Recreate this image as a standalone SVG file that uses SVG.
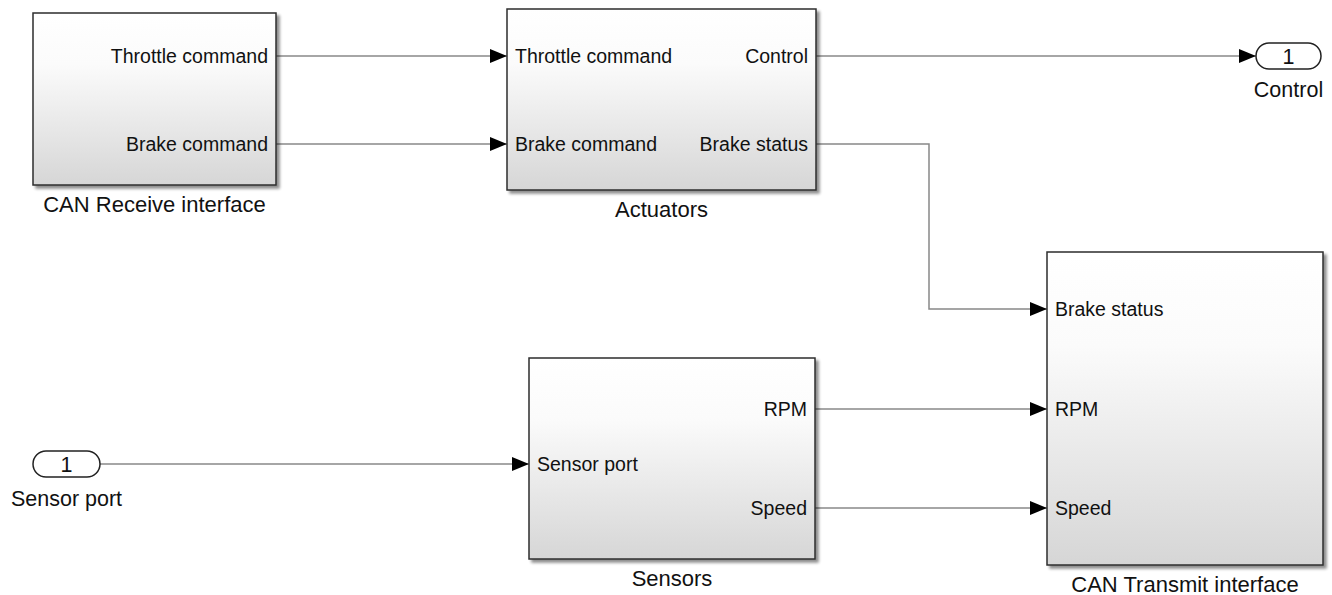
<svg xmlns="http://www.w3.org/2000/svg" width="1332" height="595" viewBox="0 0 1332 595">
<style>
.blk{fill:url(#g);stroke:#2e2e2e;stroke-width:1.5;filter:url(#sh)}
.port{fill:#fff;stroke:#222;stroke-width:1.5}
.t{font-family:"Liberation Sans",Arial,sans-serif;font-size:19.5px;fill:#111}
.n{font-family:"Liberation Sans",Arial,sans-serif;font-size:22px;fill:#111;text-anchor:middle}
.p{font-family:"Liberation Sans",Arial,sans-serif;font-size:21.5px;fill:#111;text-anchor:middle}
.r{text-anchor:end}
.w{fill:none;stroke:#888;stroke-width:1.5}
</style>
<defs>
<linearGradient id="g" x1="0" y1="0" x2="0" y2="1">
<stop offset="0" stop-color="#ffffff"/>
<stop offset="0.3" stop-color="#fbfbfb"/>
<stop offset="1" stop-color="#d6d6d6"/>
</linearGradient>
<filter id="sh" x="-5%" y="-5%" width="115%" height="115%">
<feGaussianBlur in="SourceAlpha" stdDeviation="1.5"/>
<feOffset dx="3" dy="3" result="o"/>
<feComponentTransfer><feFuncA type="linear" slope="0.45"/></feComponentTransfer>
<feMerge><feMergeNode/><feMergeNode in="SourceGraphic"/></feMerge>
</filter>
<marker id="arr" markerWidth="17" markerHeight="14" refX="17" refY="7" orient="auto" markerUnits="userSpaceOnUse">
<path d="M0,0 L17,7 L0,14 z" fill="#000"/>
</marker>
</defs>
<rect width="1332" height="595" fill="#fff"/>
<g id="connectors">
<path class="w" d="M276,56 H507" marker-end="url(#arr)"/>
<path class="w" d="M276,144 H507" marker-end="url(#arr)"/>
<path class="w" d="M816,56 H1256" marker-end="url(#arr)"/>
<path class="w" d="M816,144 H929 V309 H1047" marker-end="url(#arr)"/>
<path class="w" d="M815,409 H1047" marker-end="url(#arr)"/>
<path class="w" d="M815,508 H1047" marker-end="url(#arr)"/>
<path class="w" d="M100,464 H529" marker-end="url(#arr)"/>
</g>
<g id="can_receive">
<rect class="blk" x="33" y="13" width="243" height="172"/>
<text class="t r" x="268" y="63">Throttle command</text>
<text class="t r" x="268" y="151">Brake command</text>
<text class="n" x="154.5" y="212">CAN Receive interface</text>
</g>
<g id="actuators">
<rect class="blk" x="507" y="9" width="309" height="181"/>
<text class="t" x="515" y="63">Throttle command</text>
<text class="t" x="515" y="151">Brake command</text>
<text class="t r" x="808" y="63">Control</text>
<text class="t r" x="808" y="151">Brake status</text>
<text class="n" x="661.5" y="217">Actuators</text>
</g>
<g id="control_out">
<rect class="port" x="1256" y="43" width="65" height="26" rx="13" ry="13"/>
<text class="p" x="1288.5" y="64">1</text>
<text class="p" x="1288.5" y="97">Control</text>
</g>
<g id="sensor_in">
<rect class="port" x="33" y="451" width="67" height="26" rx="13" ry="13"/>
<text class="p" x="66.5" y="472">1</text>
<text class="p" x="66.5" y="506">Sensor port</text>
</g>
<g id="sensors">
<rect class="blk" x="529" y="358" width="286" height="201"/>
<text class="t" x="537" y="471">Sensor port</text>
<text class="t r" x="807" y="416">RPM</text>
<text class="t r" x="807" y="515">Speed</text>
<text class="n" x="672" y="586">Sensors</text>
</g>
<g id="can_transmit">
<rect class="blk" x="1047" y="252" width="276" height="313"/>
<text class="t" x="1055" y="316">Brake status</text>
<text class="t" x="1055" y="416">RPM</text>
<text class="t" x="1055" y="515">Speed</text>
<text class="n" x="1185" y="592">CAN Transmit interface</text>
</g>
</svg>
